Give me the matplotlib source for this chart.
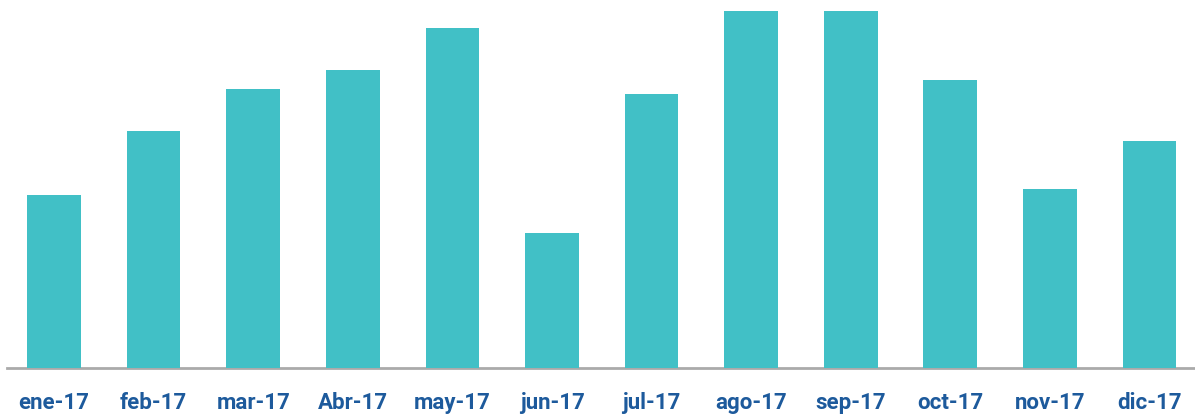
import matplotlib.pyplot as plt

months = ["ene-17", "feb-17", "mar-17", "Abr-17", "may-17", "jun-17",
          "jul-17", "ago-17", "sep-17", "oct-17", "nov-17", "dic-17"]
values = [173, 237, 279, 298, 340, 135, 274, 357, 357, 288, 179, 227]

BAR_COLOR = "#41c0c6"
LABEL_COLOR = "#1d5a9c"
AXIS_COLOR = "#aaaaaa"

fig = plt.figure(figsize=(11.95, 4.19), dpi=100)
ax = fig.add_axes([7 / 1195, 51 / 419, 1188 / 1195, 368 / 419])

x = list(range(len(months)))
ax.bar(x, values, width=0.54, color=BAR_COLOR, zorder=2)

ax.set_xlim(-0.472, 11.456)
ax.set_ylim(0, 368)
ax.set_xticks(x)
ax.set_xticklabels(months, fontfamily="Roboto", fontweight="bold",
                   fontsize=16, color=LABEL_COLOR)
ax.tick_params(axis="x", length=0, pad=17)
ax.set_yticks([])

for side in ["top", "left", "right"]:
    ax.spines[side].set_visible(False)
ax.spines["bottom"].set_color(AXIS_COLOR)
ax.spines["bottom"].set_linewidth(2.0)
ax.spines["bottom"].set_zorder(1)

fig.savefig("out.png", dpi=100)
